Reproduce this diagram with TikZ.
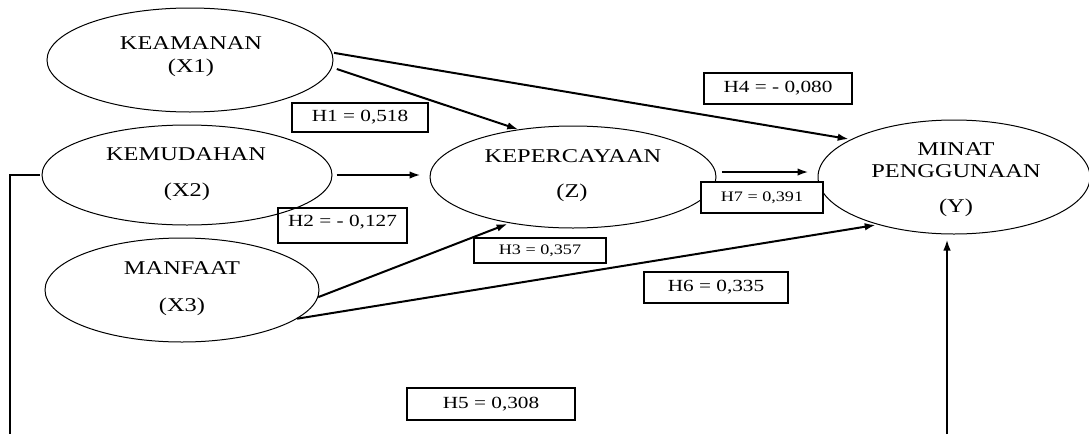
\documentclass[tikz,border=0pt]{standalone}
\usepackage{fontspec}
\setmainfont{Liberation Serif}[FakeStretch=1.25]
\usetikzlibrary{arrows.meta,shapes.geometric}
\begin{document}
\begin{tikzpicture}[x=1pt,y=-1pt,
  ell/.style={draw, ellipse, line width=1pt, inner sep=0pt},
  etxt/.style={anchor=base, inner sep=0pt, font=\fontsize{19.5}{19.5}\selectfont},
  hbox/.style={draw, line width=1.1pt, inner sep=0pt, font=\fontsize{17}{17}\selectfont},
  hsmall/.style={hbox, font=\fontsize{14.5}{14.5}\selectfont},
  arr/.style={line width=2pt, -{Latex[length=11pt,width=7.5pt]}},
  plain/.style={line width=2pt},
  ]
\useasboundingbox (0,0) rectangle (1089,434);

% ellipses
\node[ell, minimum width=286pt, minimum height=104pt] (x1) at (190,60) {};
\node[ell, minimum width=290pt, minimum height=100pt] (x2) at (187,175) {};
\node[ell, minimum width=274pt, minimum height=104pt] (x3) at (182,290) {};
\node[ell, minimum width=286pt, minimum height=102pt] (z) at (573,177) {};
\node[ell, minimum width=272pt, minimum height=114pt] (y) at (954,177) {};

% ellipse texts
\node[etxt] (x1a) at (191,49) {KEAMANAN};
\node[etxt] (x1b) at (191,72) {(X1)};
\node[etxt] (x2a) at (186,160) {KEMUDAHAN};
\node[etxt] (x2b) at (187,196) {(X2)};
\node[etxt] (x3a) at (182,274) {MANFAAT};
\node[etxt] (x3b) at (182,311) {(X3)};
\node[etxt] (za) at (573,162) {KEPERCAYAAN};
\node[etxt] (zb) at (572,197) {(Z)};
\node[etxt] (ya) at (956,155) {MINAT};
\node[etxt] (yb) at (956,177) {PENGGUNAAN};
\node[etxt] (yc) at (956,212) {(Y)};

% connectors
\coordinate (bl) at (10,434);
\coordinate (br) at (947,434);
\draw[arr, shorten <=2pt, shorten >=2pt] (x1.3) -- (y.160);
\draw[arr, shorten <=5pt] (x1.-3) -- (z.139);
\draw[arr, shorten <=4pt, shorten >=9pt] (x2.east) -- (x2.east -| z.west);
\draw[arr, shorten <=6pt, shorten >=9pt] (z.2) -- (z.2 -| y.west);
\draw[arr, shorten >=2pt] (x3.-3) -- (z.-144);
\draw[arr, shorten >=2pt] (x3.-14) -- (y.-148);
\draw[plain, shorten <=2pt] (x2.west) -| (bl);
\draw[arr, shorten >=5pt] (br) -- (br |- y.south);

% labels
\node[hbox, minimum width=136pt, minimum height=29pt] (h1) at (360,117.5) {H1 = 0,518};
\node[hbox, minimum width=129pt, minimum height=35pt, text depth=10pt] (h2) at (342.5,225.5) {H2 = - 0,127};
\node[hsmall, minimum width=132pt, minimum height=25pt] (h3) at (540,250.5) {H3 = 0,357};
\node[hbox, minimum width=148pt, minimum height=31pt] (h4) at (778,88.5) {H4 = - 0,080};
\node[hsmall, minimum width=122pt, minimum height=31pt, fill=white] (h7) at (762,197.5) {H7 = 0,391};
\node[hbox, minimum width=144pt, minimum height=31pt] (h6) at (716,287.5) {H6 = 0,335};
\node[hbox, minimum width=168pt, minimum height=32pt] (h5) at (491,404) {H5 = 0,308};
\end{tikzpicture}
\end{document}
